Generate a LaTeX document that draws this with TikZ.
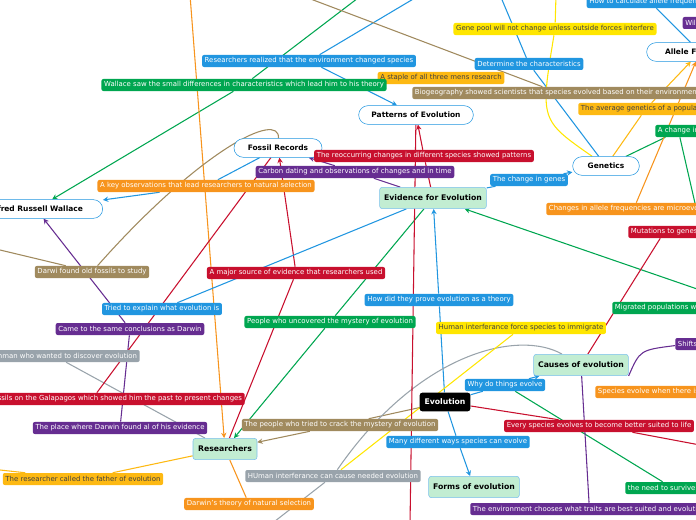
\documentclass[tikz,border=0pt]{standalone}
\usepackage{fontspec}
\setmainfont{DejaVu Sans}
\usetikzlibrary{arrows.meta,backgrounds}
\definecolor{cblue}{HTML}{2196E0}
\definecolor{cgreen}{HTML}{00A650}
\definecolor{corange}{HTML}{F7941D}
\definecolor{cred}{HTML}{C8102E}
\definecolor{cpurple}{HTML}{662D91}
\definecolor{cbrown}{HTML}{A08A5E}
\definecolor{cgold}{HTML}{FDB913}
\definecolor{cyellow}{HTML}{FFE600}
\definecolor{cgray}{HTML}{99A3AB}
\definecolor{mint}{HTML}{C2EDD2}
\tikzset{
  lbl/.style={fill=#1,text=white,rounded corners=1.5pt,inner sep=2pt,minimum height=9pt,font=\fontsize{5.2}{6}\selectfont},
  dlbl/.style={fill=#1,text=black!75,rounded corners=1.5pt,inner sep=2pt,minimum height=9pt,font=\fontsize{5.2}{6}\selectfont},
  topic/.style={draw=cblue,fill=white,rounded corners=7pt,minimum height=14pt,minimum width=#1,font=\fontsize{5.6}{6}\selectfont\bfseries},
  main/.style={draw=cblue!60,fill=mint,rounded corners=2pt,minimum height=16pt,minimum width=#1,font=\fontsize{5.8}{6}\selectfont\bfseries},
  link/.style={draw=#1,line width=0.8pt,-{Stealth[length=4pt,width=4pt]}},
  line/.style={draw=#1,line width=0.8pt}
}
\begin{document}
\begin{tikzpicture}[x=0.75pt,y=-0.75pt]
\useasboundingbox (0,0) rectangle (696,520);
% main topics
\node [topic=86pt] (patterns) at (416,115) {Patterns of Evolution};
\node [topic=66pt] (fossil) at (278,148) {Fossil Records};
\node [topic=100pt] (wallace) at (36,209) {Alfred Russell Wallace};
\node [main=78pt] (evidence) at (433,198) {Evidence for Evolution};
\node [topic=50pt] (genetics) at (606,166) {Genetics};
\node [topic=80pt] (allele) at (700,52) {Allele Frequency};
\node [fill=black,text=white,rounded corners=2pt,minimum height=14pt,minimum width=38pt,font=\fontsize{5.8}{6}\selectfont\bfseries] (evolution) at (445,402) {Evolution};
\node [main=70pt] (causes) at (581,365) {Causes of evolution};
\node [main=68pt] (forms) at (474,487) {Forms of evolution};
\node [main=48pt] (researchers) at (225,449) {Researchers};
% off-canvas ends
\coordinate (t1) at (190,-5);
\coordinate (t2) at (420,-5);
\coordinate (t3) at (362,-5);
\coordinate (t4) at (500,-5);
\coordinate (t5) at (556,-5);
\coordinate (r1) at (700,445);
\coordinate (r2) at (700,290);
\coordinate (r3) at (700,225);
\coordinate (b1) at (410,525);
\coordinate (b2) at (270,525);
\coordinate (b3) at (0,250);
\coordinate (l1) at (0,470);
% labels
\node [lbl=cblue] (calc) at (650,2) {How to calculate allele frequencies};
\node [lbl=cpurple] (mes) at (700,23) {Will mes};
\node [dlbl=cyellow] (genepool) at (555,29) {Gene pool will not change unless outside forces interfere};
\node [lbl=cblue] (determine) at (529,64) {Determine the characteristics};
\node [lbl=cblue] (realized) at (309,61) {Researchers realized that the environment changed species};
\node [dlbl=cgold] (staple) at (441,78) {A staple of all three mens research};
\node [lbl=cgreen] (smalldiff) at (244,85) {Wallace saw the small differences in characteristics which lead him to his theory};
\node [lbl=cbrown] (biogeo) at (559,93) {Biogeography showed scientists that species evolved based on their environments};
\node [dlbl=cgold,anchor=west] (average) at (578,109) {The average genetics of a population};
\node [lbl=cgreen,anchor=west] (achange) at (655,131) {A change in};
\node [lbl=cred] (reoccur) at (424,156) {The reoccurring changes in different species showed patterns};
\node [lbl=cpurple] (carbon) at (355,172) {Carbon dating and observations of changes and in time};
\node [lbl=cblue] (genes) at (529,180) {The change in genes};
\node [lbl=corange] (keyobs) at (206,186) {A key observations that lead researchers to natural selection};
\node [lbl=corange,anchor=west] (microevo) at (546,209) {Changes in allele frequencies are microevolution};
\node [lbl=cred,anchor=west] (mutations) at (628,232) {Mutations to genes};
\node [lbl=cbrown] (oldfossils) at (92,272) {Darwi found old fossils to study};
\node [lbl=cred] (major) at (296,273) {A major source of evidence that researchers used};
\node [lbl=cblue] (prove) at (439,300) {How did they prove evolution as a theory};
\node [lbl=cblue] (explain) at (162,309) {Tried to explain what evolution is};
\node [lbl=cgreen,anchor=west] (migrated) at (612,308) {Migrated populations were};
\node [lbl=cgreen] (uncovered) at (330,322) {People who uncovered the mystery of evolution};
\node [lbl=cpurple] (same) at (130,329) {Came to the same conclusions as Darwin};
\node [dlbl=cyellow] (immigrate) at (521,328) {Human interferance force species to immigrate};
\node [lbl=cpurple,anchor=west] (shifts) at (675,344) {Shifts};
\node [lbl=cgray,anchor=east] (french) at (140,356) {A Frenchman who wanted to discover evolution};
\node [lbl=cblue] (why) at (505,385) {Why do things evolve};
\node [lbl=corange,anchor=west] (whenthere) at (595,392) {Species evolve when there is};
\node [lbl=cred,anchor=east] (galapagos) at (245,399) {Darwin found fossils on the Galapagos which showed him the past to present changes};
\node [lbl=cbrown] (crack) at (340,425) {The people who tried to crack the mystery of evolution};
\node [lbl=cred] (suited) at (599,426) {Every species evolves to become better suited to life};
\node [lbl=cpurple] (place) at (120,428) {The place where Darwin found al of his evidence};
\node [lbl=cblue] (ways) at (458,442) {Many different ways species can evolve};
\node [lbl=cgray] (needed) at (333,476) {HUman interferance can cause needed evolution};
\node [dlbl=cgold] (father) at (83,479) {The researcher called the father of evolution};
\node [lbl=cgreen,anchor=west] (survive) at (625,488) {the need to survive or die};
\node [lbl=corange] (natsel) at (249,504) {Darwin's theory of natural selection};
\node [lbl=cpurple,anchor=west] (chooses) at (470,509) {The environment chooses what traits are best suited and evolution};
% connectors
\begin{scope}[on background layer]
\draw [line=cblue] (evolution) -- (why);
\draw [link=cblue] (why) -- (causes);
\draw [line=cblue] (evolution) -- (ways);
\draw [link=cblue] (ways) -- (forms);
\draw [line=cblue] (evolution) -- (prove);
\draw [link=cblue] (prove) -- (evidence);
\draw [line=cbrown] (evolution) -- (crack);
\draw [link=cbrown] (crack) -- (researchers);
\draw [line=cred] (evolution) -- (suited) -- (r1);
\draw [line=cblue] (evidence) -- (genes);
\draw [link=cblue] (genes) -- (genetics);
\draw [link=cred] (evidence) -- (reoccur) -- (patterns);
\draw [link=cpurple] (evidence) -- (carbon) -- (fossil);
\draw [link=cgreen] (r2) -- (evidence);
\draw [link=cgreen] (evidence) -- (uncovered) -- (researchers);
\draw [link=cblue] (fossil) -- (keyobs) -- (wallace);
\draw [link=cgreen] (t3) -- (smalldiff) -- (wallace);
\draw [link=cblue] (t2) -- (realized) -- (patterns);
\draw [link=corange] (t1) -- (researchers);
\draw [line=cblue] (genetics) -- (determine) -- (t4);
\draw [line=cyellow] (genetics) .. controls (540,120) .. (genepool) -- (t5);
\draw [link=cgold] (genetics) -- (average) -- (allele);
\draw [line=cgreen] (genetics) -- (achange) -- (r3);
\draw [link=corange] (microevo) -- (allele);
\draw [line=cblue] (allele) -- (calc);
\draw [line=cbrown] (biogeo) -- (300,-5);
\draw [link=cred] (researchers) -- (major) -- (fossil);
\draw [line=cgold] (researchers) -- (father) -- (l1);
\draw [line=corange] (researchers) -- (natsel);
\draw [line=cgray] (causes) .. controls (520,330) and (420,350) .. (needed) -- (b2);
\draw [line=cyellow] (immigrate) -- (needed);
\draw [line=cgreen] (why) -- (survive);
\draw [line=cpurple] (causes) -- (chooses);
\draw [line=cpurple] (causes.south east) .. controls (640,350) .. (shifts);
\draw [line=cred] (causes) -- (mutations);
\draw [line=cbrown] (fossil) .. controls (280,110) and (200,150) .. (oldfossils) -- (b3);
\draw [link=cpurple] (place) -- (same) -- (wallace);
\draw [line=cblue] (explain) -- (evidence);
\draw [line=cgray] (french) -- (researchers);
\draw [line=cred] (galapagos) -- (fossil);
\draw [line=cred] (patterns) -- (b1);
\end{scope}
\end{tikzpicture}
\end{document}
